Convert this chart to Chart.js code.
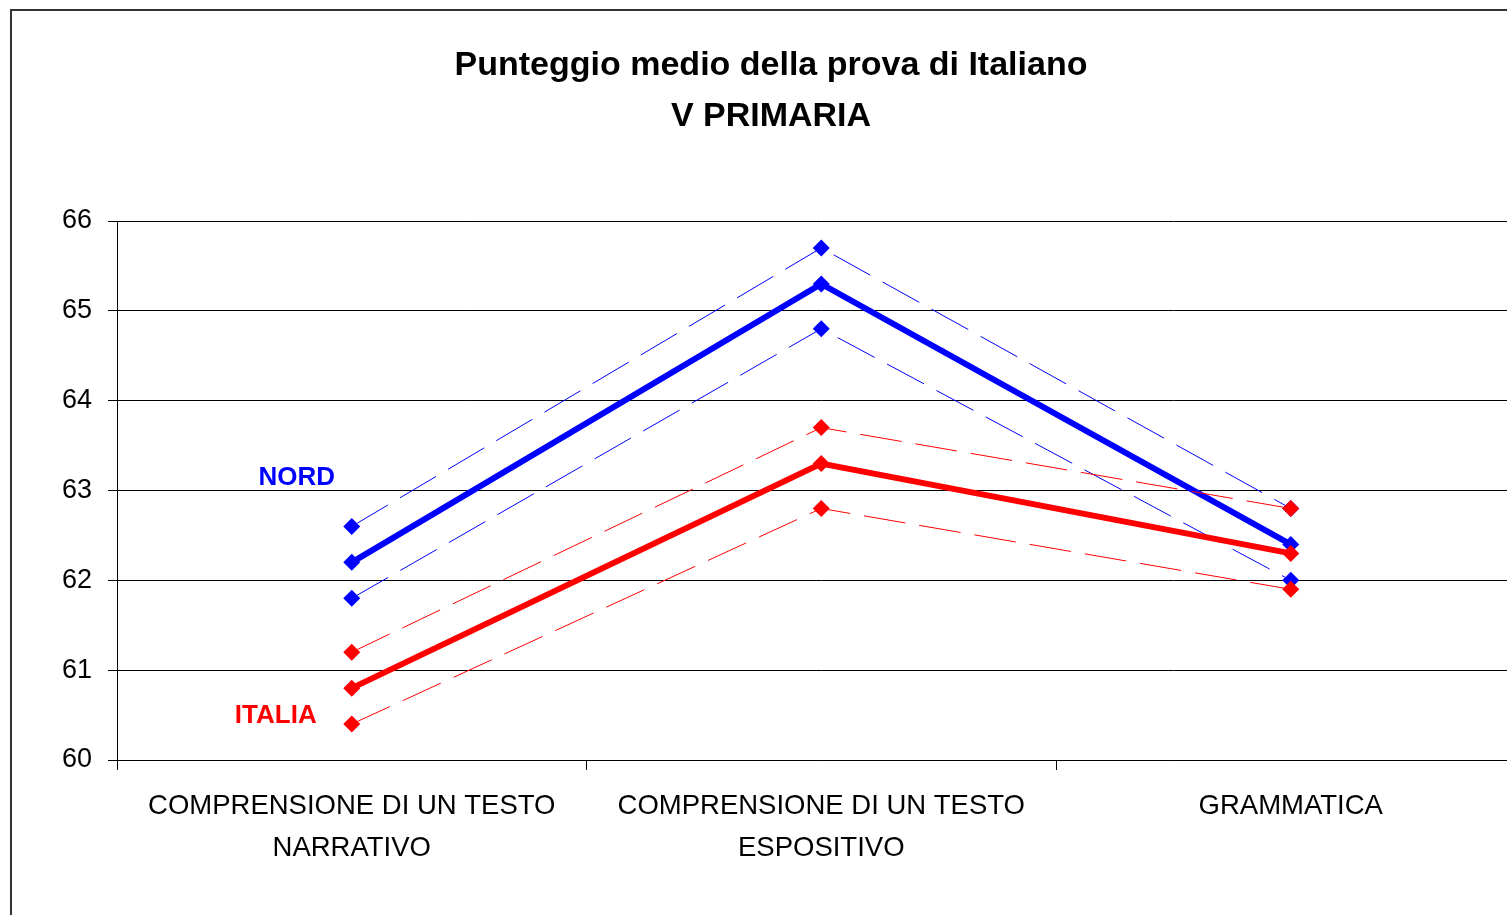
<!DOCTYPE html>
<html>
<head>
<meta charset="utf-8">
<script src="https://cdn.jsdelivr.net/npm/chart.js@4"></script>
<style>
  body { margin: 0; overflow: hidden; background: #fff; }
  #frame {
    position: absolute; left: 10px; top: 9px;
    width: 1550px; height: 940px;
    border: 2px solid #333;
  }
  #chart { position: absolute; left: 0; top: 0; }
</style>
</head>
<body>
<div id="frame"><canvas id="chart" width="1522" height="904"></canvas></div>
<script>
// Categories and values
const categories = [
  ["COMPRENSIONE DI UN TESTO", "NARRATIVO"],
  ["COMPRENSIONE DI UN TESTO", "ESPOSITIVO"],
  "GRAMMATICA"
];
const nordMean = [62.2, 65.3, 62.4];
const nordHigh = [62.6, 65.7, 62.8];
const nordLow = [61.8, 64.8, 62.0];
const italiaMean = [60.8, 63.3, 62.3];
const italiaHigh = [61.2, 63.7, 62.8];
const italiaLow = [60.4, 62.8, 61.9];
const yMin = 60, yMax = 66, yStep = 1;

const BLUE = "#0000ff";
const RED = "#ff0000";
const FONT = "'Liberation Sans', Arial, sans-serif";

function meanLine(label, data, color) {
  return {
    label: label, data: data,
    borderColor: color, backgroundColor: color,
    borderWidth: 6, pointStyle: "rectRot", pointRadius: 8.5,
    pointBorderWidth: 0, tension: 0
  };
}
function bandLine(label, data, color) {
  return {
    label: label, data: data,
    borderColor: color, backgroundColor: color,
    borderWidth: 1, borderDash: [42, 14],
    pointStyle: "rectRot", pointRadius: 8.5,
    pointBorderWidth: 0, tension: 0
  };
}

// Series names next to the first category
const seriesLabels = {
  id: "seriesLabels",
  afterDatasetsDraw(chart) {
    const ctx = chart.ctx;
    const x0 = chart.scales.x.getPixelForValue(0);
    const y = chart.scales.y;
    ctx.save();
    ctx.font = "bold 26px " + FONT;
    ctx.textAlign = "center";
    ctx.textBaseline = "middle";
    ctx.fillStyle = BLUE;
    ctx.fillText("NORD", x0 - 55, y.getPixelForValue(63.14));
    ctx.fillStyle = RED;
    ctx.fillText("ITALIA", x0 - 76, y.getPixelForValue(60.49));
    ctx.restore();
  }
};

new Chart(document.getElementById("chart"), {
  type: "line",
  data: {
    labels: categories,
    datasets: [
      meanLine("ITALIA", italiaMean, RED),
      bandLine("ITALIA max", italiaHigh, RED),
      bandLine("ITALIA min", italiaLow, RED),
      meanLine("NORD", nordMean, BLUE),
      bandLine("NORD max", nordHigh, BLUE),
      bandLine("NORD min", nordLow, BLUE)
    ]
  },
  options: {
    responsive: false,
    animation: false,
    devicePixelRatio: 1,
    layout: { padding: { left: 0, right: 4, top: 0, bottom: 0 } },
    plugins: {
      legend: { display: false },
      tooltip: { enabled: false },
      title: {
        display: true,
        text: ["Punteggio medio della prova di Italiano", "V PRIMARIA"],
        color: "#000",
        font: { family: FONT, size: 34, weight: "bold", lineHeight: 1.5 },
        padding: { top: 29, bottom: 79 }
      }
    },
    scales: {
      x: {
        offset: true,
        grid: { offset: true, drawOnChartArea: false, drawTicks: true, tickLength: 10, color: "#000" },
        border: { display: true, color: "#000", width: 1 },
        ticks: {
          color: "#000", padding: 15, maxRotation: 0, autoSkip: false,
          font: { family: FONT, size: 27.5, lineHeight: 1.53 }
        },
        afterFit(scale) { scale.height = 155; }
      },
      y: {
        min: yMin, max: yMax,
        grid: { color: "#000", lineWidth: 1, tickLength: 9 },
        border: { display: true, color: "#000", width: 1 },
        ticks: {
          stepSize: yStep, color: "#000", padding: 16,
          font: { family: FONT, size: 27 }
        },
        afterFit(scale) { scale.width = 105; }
      }
    }
  },
  plugins: [seriesLabels]
});
</script>
</body>
</html>
